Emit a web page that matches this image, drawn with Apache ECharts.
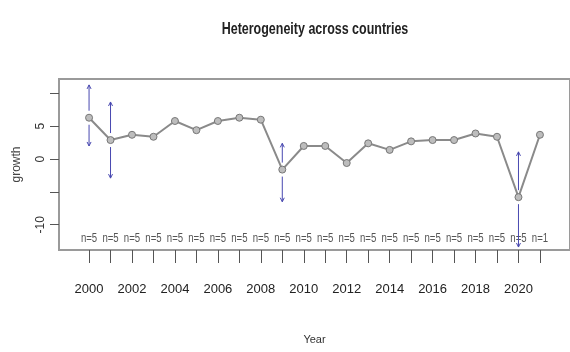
<!DOCTYPE html>
<html>
<head>
<meta charset="utf-8">
<script src="https://cdn.jsdelivr.net/npm/echarts@6/dist/echarts.min.js"></script>
<style>
  html, body { margin: 0; padding: 0; background: #fff; }
  #chart { width: 570px; height: 352px; }
</style>
</head>
<body>
<div id="chart"></div>
<script>
var years = [2000, 2001, 2002, 2003, 2004, 2005, 2006, 2007, 2008, 2009, 2010,
             2011, 2012, 2013, 2014, 2015, 2016, 2017, 2018, 2019, 2020, 2021];
var means = [6.3, 2.9, 3.7, 3.4, 5.8, 4.4, 5.8, 6.3, 6.0, -1.6, 2.0,
             2.0, -0.6, 2.4, 1.4, 2.7, 2.9, 2.9, 3.9, 3.4, -5.8, 3.7];
var ciLow = [2.0, -2.9, null, null, null, null, null, null, null, -6.5, null,
             null, null, null, null, null, null, null, null, null, -13.4, null];
var ciHigh = [11.3, 8.7, null, null, null, null, null, null, null, 2.4, null,
              null, null, null, null, null, null, null, null, null, 1.1, null];
var counts = ['n=5', 'n=5', 'n=5', 'n=5', 'n=5', 'n=5', 'n=5', 'n=5', 'n=5', 'n=5', 'n=5',
              'n=5', 'n=5', 'n=5', 'n=5', 'n=5', 'n=5', 'n=5', 'n=5', 'n=5', 'n=5', 'n=1'];
var yTicks = [-10, -5, 0, 5, 10];
var yLabels = [-10, 0, 5];
var xLabels = [2000, 2002, 2004, 2006, 2008, 2010, 2012, 2014, 2016, 2018, 2020];

var font = "'Liberation Sans', Arial, sans-serif";
var barColor = '#4848b0';

var chart = echarts.init(document.getElementById('chart'), null, { renderer: 'canvas' });

var ciData = years.map(function(y, i) { return [y, ciLow[i], ciHigh[i], means[i]]; })
  .filter(function(d) { return d[1] != null; });

chart.setOption({
  animation: false,
  graphic: [{
    type: 'text', x: 315, y: 30, scaleX: 0.78,
    style: {
      text: 'Heterogeneity across countries', align: 'center', verticalAlign: 'middle',
      font: 'bold 16px ' + font, fill: '#222'
    }
  }],
  grid: {
    left: 59, right: -3, top: 79, bottom: 102,
    show: true, borderColor: '#9a9a9a', borderWidth: 2, backgroundColor: '#fff'
  },
  xAxis: {
    type: 'value', min: 1998.6, max: 2022.4,
    name: 'Year', nameLocation: 'middle', nameGap: 84,
    nameTextStyle: { fontFamily: font, fontSize: 11, color: '#333' },
    axisLine: { show: false, onZero: false },
    splitLine: { show: false },
    axisTick: { show: true, length: 13, customValues: years, lineStyle: { color: '#555' } },
    axisLabel: {
      customValues: xLabels, margin: 33, fontFamily: font, fontSize: 13, color: '#222',
      formatter: function(v) { return String(v); }
    }
  },
  yAxis: {
    type: 'value', min: -13.85, max: 12.2,
    name: 'growth', nameLocation: 'middle', nameGap: 36, nameRotate: 90,
    nameTextStyle: { fontFamily: font, fontSize: 12, color: '#444' },
    axisLine: { show: false, onZero: false },
    splitLine: { show: false },
    axisTick: { show: true, length: 9, customValues: yTicks, lineStyle: { color: '#555' } },
    axisLabel: { customValues: yLabels, rotate: 90, margin: 12, fontFamily: font, fontSize: 12, color: '#333' }
  },
  series: [
    {
      type: 'line',
      data: years.map(function(y, i) { return [y, means[i]]; }),
      symbol: 'circle', symbolSize: 7,
      lineStyle: { color: '#8a8a8a', width: 2 },
      itemStyle: { color: '#bdbdbd', borderColor: '#777', borderWidth: 1 },
      z: 3
    },
    {
      type: 'custom',
      data: ciData,
      renderItem: function(params, api) {
        var top = api.coord([api.value(0), api.value(2)]);
        var bot = api.coord([api.value(0), api.value(1)]);
        var mid = api.coord([api.value(0), api.value(3)]);
        var x = top[0], gap = 7;
        var st = { stroke: barColor, lineWidth: 1, fill: null };
        return {
          type: 'group',
          children: [
            { type: 'line', shape: { x1: x, y1: top[1], x2: x, y2: mid[1] - gap }, style: st },
            { type: 'line', shape: { x1: x, y1: mid[1] + gap, x2: x, y2: bot[1] }, style: st },
            { type: 'polyline', shape: { points: [[x - 2, top[1] + 4], [x, top[1]], [x + 2, top[1] + 4]] }, style: st },
            { type: 'polyline', shape: { points: [[x - 2, bot[1] - 4], [x, bot[1]], [x + 2, bot[1] - 4]] }, style: st }
          ]
        };
      },
      z: 4
    },
    {
      type: 'custom',
      data: years.map(function(y, i) { return [y, -12.1, counts[i]]; }),
      renderItem: function(params, api) {
        var p = api.coord([api.value(0), api.value(1)]);
        return {
          type: 'text', x: p[0], y: p[1], scaleX: 0.8,
          style: {
            text: counts[params.dataIndex], align: 'center', verticalAlign: 'middle',
            font: '12px ' + font, fill: '#555'
          }
        };
      },
      z: 2
    }
  ]
});
</script>
</body>
</html>
